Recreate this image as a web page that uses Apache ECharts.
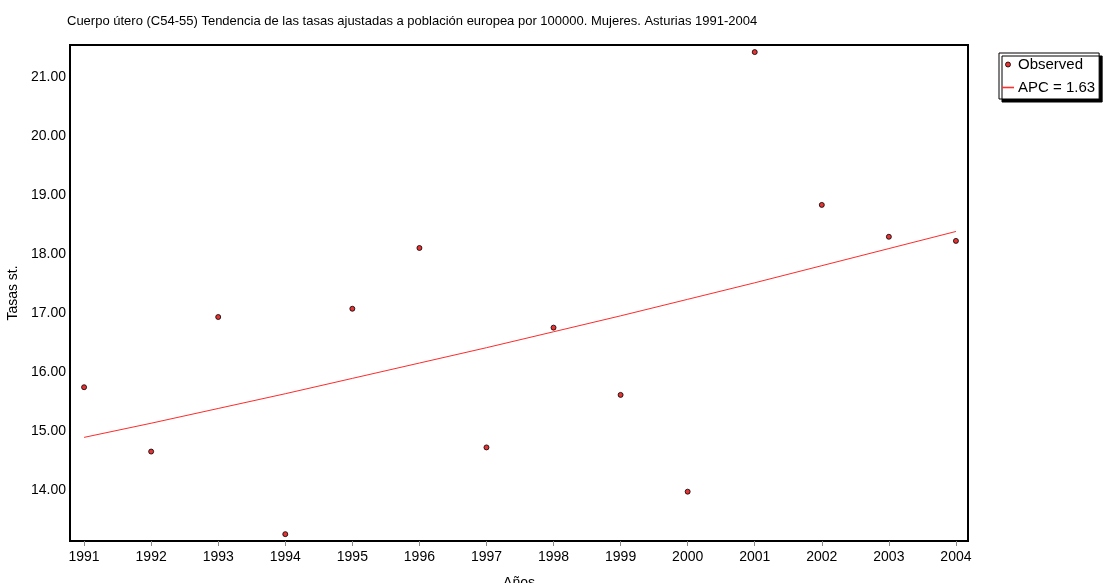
<!DOCTYPE html>
<html><head><meta charset="utf-8">
<script src="https://cdn.jsdelivr.net/npm/echarts@6/dist/echarts.min.js"></script>
<style>html,body{margin:0;padding:0;background:#fff}#c{width:1104px;height:583px}</style>
</head><body><div id="c"></div>
<script>
const years = [1991,1992,1993,1994,1995,1996,1997,1998,1999,2000,2001,2002,2003,2004];
const observed = [15.75,14.66,16.94,13.26,17.08,18.11,14.73,16.76,15.62,13.98,21.43,18.84,18.30,18.23];
const trend = [14.90,15.14,15.39,15.64,15.90,16.16,16.42,16.69,16.96,17.24,17.52,17.81,18.10,18.39];
const yTicks = [14,15,16,17,18,19,20,21];
const titleText = 'Cuerpo útero (C54-55) Tendencia de las tasas ajustadas a población europea por 100000. Mujeres. Asturias 1991-2004';
const seriesNames = ['Observed','APC = 1.63'];

const chart = echarts.init(document.getElementById('c'), null, {renderer:'canvas'});
const font = 'Liberation Sans, Arial, sans-serif';
chart.setOption({
  backgroundColor:'#fff',
  animation:false,
  title:{text:titleText,left:62,top:10,textStyle:{fontFamily:font,fontSize:13,fontWeight:'normal',color:'#000'}},
  legend:{
    orient:'vertical', left:999, top:53,
    data:[
      {name:seriesNames[0],icon:'circle',itemStyle:{color:'#e00000',borderColor:'#000',borderWidth:1}},
      {name:seriesNames[1],icon:'path://M0,0h12v1.6h-12z',itemStyle:{color:'#ff3030',borderWidth:0}}
    ],
    itemWidth:12, itemHeight:5, itemGap:8,
    padding:[4,4,4,3],
    backgroundColor:'#fff', borderColor:'#000', borderWidth:1,
    shadowColor:'#000', shadowOffsetX:3, shadowOffsetY:3, shadowBlur:0,
    textStyle:{fontFamily:font,fontSize:15,color:'#000',padding:[0,0,0,-1]}
  },
  grid:{left:70,top:45,right:136,bottom:42,outerBoundsMode:'none',containLabel:false,show:true,borderColor:'#000',borderWidth:2,backgroundColor:'#fff'},
  xAxis:{
    type:'value', min:1990.79, max:2004.18,
    name:'Años', nameLocation:'middle', nameGap:35,
    nameTextStyle:{fontFamily:font,fontSize:14,color:'#000'},
    axisLine:{show:false},
    axisTick:{show:true,length:5,lineStyle:{color:'#888'},customValues:years},
    axisLabel:{fontFamily:font,fontSize:14,color:'#000',margin:9,customValues:years,formatter:v=>String(v)},
    splitLine:{show:false}
  },
  yAxis:{
    type:'value', min:13.144, max:21.55,
    name:'Tasas st.', nameLocation:'middle', nameGap:48,
    nameTextStyle:{fontFamily:font,fontSize:14,color:'#000'},
    axisLine:{show:false},
    axisTick:{show:false},
    axisLabel:{fontFamily:font,fontSize:14,color:'#000',margin:4,customValues:yTicks,formatter:v=>v.toFixed(2)},
    splitLine:{show:false}
  },
  series:[
    {name:seriesNames[0],type:'scatter',data:years.map((y,i)=>[y,observed[i]]),symbol:'circle',symbolSize:5,
     itemStyle:{color:'#e00000',borderColor:'#000',borderWidth:1},z:3},
    {name:seriesNames[1],type:'line',data:years.map((y,i)=>[y,trend[i]]),symbol:'none',showSymbol:false,
     lineStyle:{color:'#ff2a2a',width:1},itemStyle:{color:'#ff2a2a'},z:2}
  ]
});
</script></body></html>
